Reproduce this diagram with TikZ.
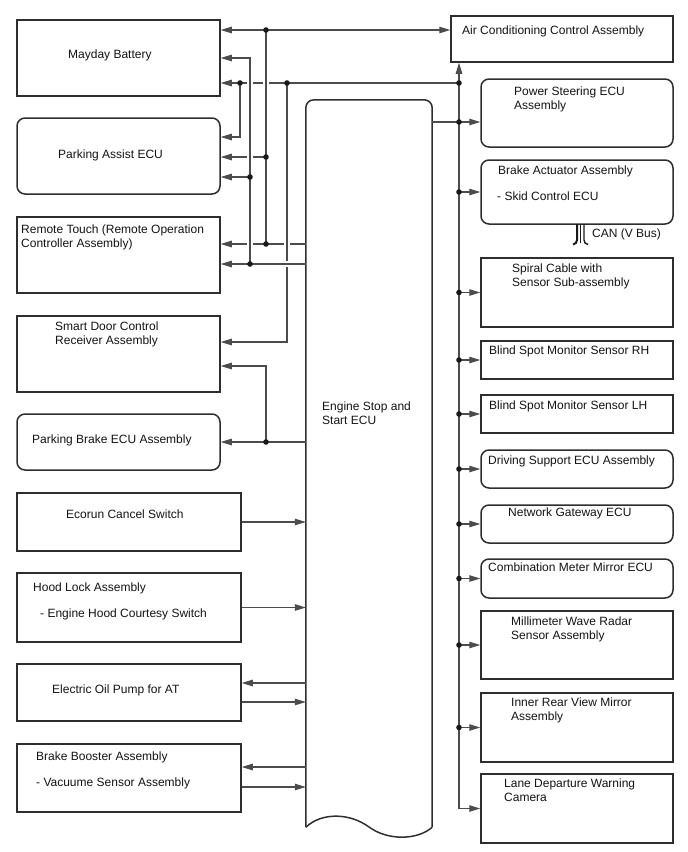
\documentclass[tikz,border=0pt]{standalone}
\usepackage{fontspec}
\setmainfont{Liberation Sans}
\usetikzlibrary{arrows.meta}
\begin{document}
\begin{tikzpicture}[x=1pt,y=-1pt,
  box/.style={draw=black!82,line width=1.5pt,inner sep=0pt,fill=white},
  rbox/.style={box,rounded corners=8pt},
  txt/.style={anchor=north west,inner sep=0pt,align=left,text=black!92,
    font=\fontsize{12}{14.5}\selectfont},
  con/.style={draw=black!70,line width=1.1pt},
  tipA/.tip={Triangle[length=11pt,width=6.5pt]},
  arr/.style={con,-tipA},
  arrb/.style={con,tipA-tipA},
  dot/.style={fill=black!90}]
\useasboundingbox (0,0) rectangle (688,852);

% ---------- left boxes ----------
\node[box,minimum width=203pt,minimum height=76pt] (mayday) at (118.5,58) {};
\node[rbox,minimum width=203pt,minimum height=76pt] (passist) at (118.5,156) {};
\node[box,minimum width=203pt,minimum height=76pt] (rtouch) at (118.5,255) {};
\node[box,minimum width=203pt,minimum height=76pt] (sdoor) at (118.5,354) {};
\node[rbox,minimum width=203pt,minimum height=56pt] (pbrake) at (118.5,442) {};
\node[box,minimum width=224pt,minimum height=58pt] (ecorun) at (129,522) {};
\node[box,minimum width=224pt,minimum height=69pt] (hood) at (129,607.5) {};
\node[box,minimum width=224pt,minimum height=57pt] (oilpump) at (129,692.5) {};
\node[box,minimum width=224pt,minimum height=68pt] (booster) at (129,778) {};

\node[txt] (mayday-t) at (68,49.5) {Mayday Battery};
\node[txt] (passist-t) at (58,149.5) {Parking Assist ECU};
\node[txt] (rtouch-t) at (21,224.5) {Remote Touch (Remote Operation\\Controller Assembly)};
\node[txt] (sdoor-t) at (55,321.5) {Smart Door Control\\Receiver Assembly};
\node[txt] (pbrake-t) at (32,434.5) {Parking Brake ECU Assembly};
\node[txt] (ecorun-t) at (66,509.5) {Ecorun Cancel Switch};
\node[txt] (hood-t1) at (33,582.5) {Hood Lock Assembly};
\node[txt] (hood-t2) at (40,608.5) {- Engine Hood Courtesy Switch};
\node[txt] (oilpump-t) at (52,684.5) {Electric Oil Pump for AT};
\node[txt] (booster-t1) at (36,751.5) {Brake Booster Assembly};
\node[txt] (booster-t2) at (36,777.5) {- Vacuume Sensor Assembly};

% ---------- ECU ----------
\node[inner sep=0pt,minimum width=126pt,minimum height=727pt] (ecu) at (369,463.5) {};
\draw[draw=black!82,line width=1.5pt,rounded corners=8pt]
  (ecu.south west) -- (ecu.north west) -- (ecu.north east) -- (ecu.south east);
\draw[draw=black!82,line width=1.5pt]
  (ecu.south west) .. controls (322,812) and (350,813) .. (369,827)
  .. controls (388,841) and (418,840) .. (ecu.south east);
\node[txt] (ecu-t) at (322,401.5) {Engine Stop and\\Start ECU};

% ---------- right boxes ----------
\node[box,minimum width=222pt,minimum height=46pt] (ac) at (562,39) {};
\node[rbox,minimum width=192pt,minimum height=68pt] (psteer) at (577,113) {};
\node[rbox,minimum width=192pt,minimum height=64pt] (bact) at (577,192) {};
\node[box,minimum width=192pt,minimum height=69pt] (spiral) at (577,292.5) {};
\node[box,minimum width=192pt,minimum height=38pt] (bsrh) at (577,360) {};
\node[box,minimum width=192pt,minimum height=38pt] (bslh) at (577,414) {};
\node[rbox,minimum width=192pt,minimum height=38pt] (dsupp) at (577,469) {};
\node[rbox,minimum width=192pt,minimum height=38pt] (ngw) at (577,524) {};
\node[rbox,minimum width=192pt,minimum height=39pt] (cmeter) at (577,578.5) {};
\node[box,minimum width=192pt,minimum height=68pt] (mwave) at (577,645) {};
\node[box,minimum width=192pt,minimum height=69pt] (irv) at (577,727.5) {};
\node[box,minimum width=192pt,minimum height=69pt] (ldw) at (577,808.5) {};

\node[txt] (ac-t) at (462,25.5) {Air Conditioning Control Assembly};
\node[txt] (psteer-t) at (514,86.5) {Power Steering ECU\\Assembly};
\node[txt] (bact-t1) at (498,165.5) {Brake Actuator Assembly};
\node[txt] (bact-t2) at (497,191.5) {- Skid Control ECU};
\node[txt] (can-t) at (592,228.5) {CAN (V Bus)};
\node[txt] (spiral-t) at (512,263.5) {Spiral Cable with\\Sensor Sub-assembly};
\node[txt] (bsrh-t) at (489,345.5) {Blind Spot Monitor Sensor RH};
\node[txt] (bslh-t) at (489,400.5) {Blind Spot Monitor Sensor LH};
\node[txt] (dsupp-t) at (488,455.5) {Driving Support ECU Assembly};
\node[txt] (ngw-t) at (508,507.5) {Network Gateway ECU};
\node[txt] (cmeter-t) at (488,562.5) {Combination Meter Mirror ECU};
\node[txt] (mwave-t) at (511,616.5) {Millimeter Wave Radar\\Sensor Assembly};
\node[txt] (irv-t) at (511,697.5) {Inner Rear View Mirror\\Assembly};
\node[txt] (ldw-t) at (504,778.5) {Lane Departure Warning\\Camera};

% CAN bundle symbol
\draw[black!90,line width=2pt] (577,224) -- (577,240) .. controls (577,243) and (575.5,243.5) .. (573,244.5);
\draw[black!90,line width=1.4pt] (580.5,224) -- (580.5,243);
\draw[black!90,line width=1.4pt] (584,224) -- (584,240) .. controls (584,243) and (585.5,243.5) .. (588,244.5);

% ---------- junction coordinates ----------
\coordinate (jA) at (266,30);
\coordinate (jB) at (250,58);
\coordinate (jC) at (240,83);
\coordinate (jD) at (287,83);
\coordinate (jE) at (459,83);
\coordinate (jF) at (240,137);
\coordinate (jG) at (266,157);
\coordinate (jH) at (250,177);
\coordinate (jI) at (266,244);
\coordinate (jJ) at (250,264);
\coordinate (jK) at (287,342);
\coordinate (jL) at (266,366);
\coordinate (jM) at (266,442);
\coordinate (jN) at (459,122);
\coordinate (bx) at (459,0);
\coordinate (o1) at (0,683);
\coordinate (o2) at (0,702);
\coordinate (b1) at (0,767);
\coordinate (b2) at (0,787);

% ---------- horizontals drawn first (broken at crossings) ----------
\draw[arrb] (mayday.east |- jA) -- (ac.west |- jA);
\draw[arr] (jE) -- (mayday.east |- jE);
\draw[arr] (jG) -- (passist.east |- jG);
\draw[arr] (ecu.west |- jI) -- (rtouch.east |- jI);
\foreach \p in {(250,83),(266,83),(250,157),(250,244),(287,244)}
  \fill[white] \p ++(-3,-1.8) rectangle ++(6,3.6);

% ---------- verticals ----------
\draw[con] (jA) -- (jI);
\draw[arr] (jJ) -- (jB) -- (mayday.east |- jB);
\draw[arr] (jD) -- (jK) -- (sdoor.east |- jK);
\draw[arr] (jC) -- (jF) -- (passist.east |- jF);
\draw[arr] (jH) -- (passist.east |- jH);
\fill[white] (287,264) ++(-1.8,-3) rectangle ++(3.6,6);
\draw[arr] (ecu.west |- jJ) -- (rtouch.east |- jJ);
\draw[arr] (jM) -- (jL) -- (sdoor.east |- jL);
\draw[arr] (ecu.west |- jM) -- (pbrake.east |- jM);

% ---------- lower left ----------
\draw[arr] (ecorun.east) -- (ecu.west |- ecorun.east);
\draw[arr] (hood.east) -- (ecu.west |- hood.east);
\draw[arr] (ecu.west |- o1) -- (oilpump.east |- o1);
\draw[arr] (oilpump.east |- o2) -- (ecu.west |- o2);
\draw[arr] (ecu.west |- b1) -- (booster.east |- b1);
\draw[arr] (booster.east |- b2) -- (ecu.west |- b2);

% ---------- right bus ----------
\draw[arrb] (bx |- ac.south) -- (bx |- ldw.west) -- (ldw.west);
\draw[con] (ecu.east |- jN) -- (jN);
\draw[arr] (jN) -- (psteer.west |- jN);
\foreach \n in {bact,spiral,bsrh,bslh,dsupp,ngw,cmeter,mwave,irv}
  \draw[arr] (bx |- \n.west) -- (\n.west);

% ---------- dots ----------
\foreach \c in {jA,jC,jD,jE,jG,jH,jI,jJ,jM,jN}
  \fill[dot] (\c) circle[radius=2.8pt];
\foreach \n in {bact,spiral,bsrh,bslh,dsupp,ngw,cmeter,mwave,irv}
  \fill[dot] (bx |- \n.west) circle[radius=2.8pt];
\end{tikzpicture}
\end{document}
